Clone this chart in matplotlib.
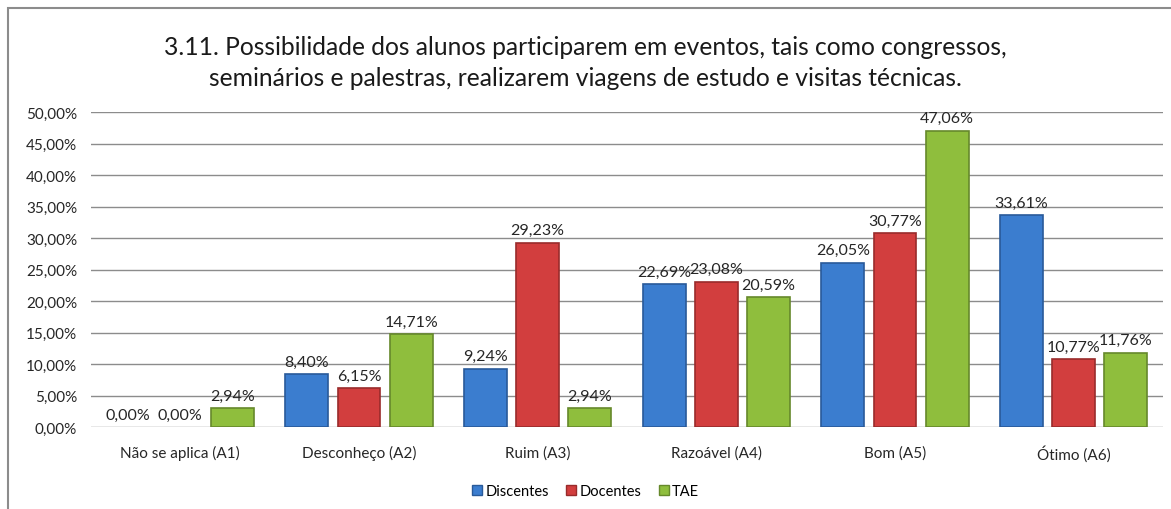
import numpy as np
import matplotlib.pyplot as plt
from matplotlib.patches import Rectangle, Patch

plt.rcParams['font.family'] = ['Lato', 'DejaVu Sans']

categories = ['Não se aplica (A1)', 'Desconheço (A2)', 'Ruim (A3)',
              'Razoável (A4)', 'Bom (A5)', 'Ótimo (A6)']
series_names = ['Discentes', 'Docentes', 'TAE']
discentes = [0.00, 8.40, 9.24, 22.69, 26.05, 33.61]
docentes = [0.00, 6.15, 29.23, 23.08, 30.77, 10.77]
tae = [2.94, 14.71, 2.94, 20.59, 47.06, 11.76]
yticks = [0, 5, 10, 15, 20, 25, 30, 35, 40, 45, 50]

face_colors = ['#3B7DCF', '#D23E3E', '#8FBE3D']
edge_colors = ['#295A99', '#992B2B', '#66892B']

fig = plt.figure(figsize=(11.71, 5.10), dpi=100)
ax = fig.add_axes([91 / 1171, 1 - 428 / 510, (1163 - 91) / 1171, (428 - 113) / 510])

x = np.arange(len(categories))
step = 0.292
width = 0.24
for k, vals in enumerate([discentes, docentes, tae]):
    pos = x + (k - 1) * step
    lw = [1.2 if v > 0 else 0 for v in vals]  # no outline on empty bars
    bars = ax.bar(pos, vals, width, color=face_colors[k], edgecolor=edge_colors[k],
                  linewidth=lw, zorder=3, label=series_names[k])
    for b, v in zip(bars, vals):
        ax.annotate(f'{v:.2f}%'.replace('.', ','), (b.get_x() + b.get_width() / 2, v),
                    xytext=(0, 4), textcoords='offset points', ha='center', va='bottom',
                    fontsize=11.5, color='#262626', zorder=5)

ax.set_xlim(-0.5, len(categories) - 0.5)
ax.set_ylim(0, 50)
ax.set_yticks(yticks)
ax.set_yticklabels([f'{t:.2f}%'.replace('.', ',') for t in yticks], fontsize=11, color='#262626')
ax.set_xticks(x)
ax.set_xticklabels(categories, fontsize=11, color='#262626')
ax.tick_params(length=0, pad=10)
ax.tick_params(axis='x', pad=13)
ax.grid(True, axis='y', color='#8C8C8C', linewidth=1, zorder=0)
for s in ['top', 'right', 'left', 'bottom']:
    ax.spines[s].set_visible(False)

fig.text(0.5, 1 - 63 / 510,
         '3.11. Possibilidade dos alunos participarem em eventos, tais como congressos,\n'
         'seminários e palestras, realizarem viagens de estudo e visitas técnicas.',
         ha='center', va='center', fontsize=17.7, color='#1A1A1A', linespacing=1.42)

handles = [Patch(facecolor=face_colors[k], edgecolor=edge_colors[k]) for k in range(3)]
fig.legend(handles, series_names, loc='center', bbox_to_anchor=(0.5, 1 - 492 / 510),
           ncol=3, frameon=False, fontsize=10.5, handlelength=0.7, handleheight=0.7,
           handletextpad=0.2, columnspacing=1.2)

# chart border (cut off at right and bottom)
fig.patches.append(Rectangle((8 / 1171, -0.1), 1.2, 1.1 - 9 / 510, transform=fig.transFigure,
                             fill=False, edgecolor='#8C8C8C', linewidth=1.5))

fig.savefig('out.png', dpi=100)
